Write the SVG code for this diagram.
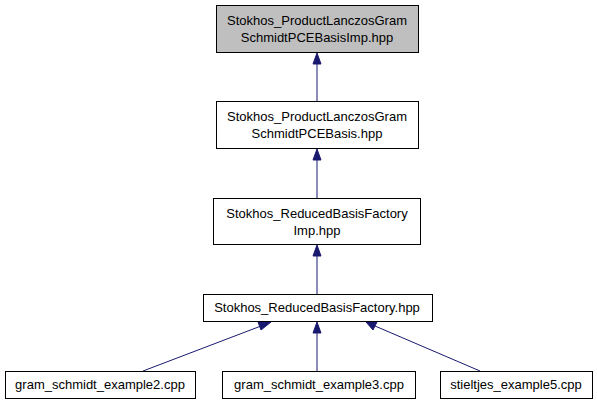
<svg xmlns="http://www.w3.org/2000/svg" width="597" height="405" viewBox="0 0 597 405">
<style>
.n rect{stroke:#000;stroke-width:1;fill:#fff}
.n text{font-family:"Liberation Sans",Arial,sans-serif;font-size:13px;text-anchor:middle;fill:#000}
.e line{stroke:#191970;stroke-width:1}
.e polygon{fill:#191970;stroke:#191970}
</style>
<rect width="597" height="405" fill="#fff"/>
<g class="e" id="edges">
<line x1="317" y1="101" x2="317" y2="63"/>
<polygon points="317,53 313,64 321,64"/>
<line x1="317" y1="198" x2="317" y2="159"/>
<polygon points="317,149 313,160 321,160"/>
<line x1="317" y1="294" x2="317" y2="255"/>
<polygon points="317,245 313,256 321,256"/>
<line x1="143" y1="371" x2="261" y2="326"/>
<polygon points="271,322 258,322 261,330"/>
<line x1="317" y1="371" x2="317" y2="332"/>
<polygon points="317,322 313,333 321,333"/>
<line x1="480" y1="371" x2="375" y2="326"/>
<polygon points="366,322 373,330 377,322"/>
</g>
<g class="n" id="node1">
<rect x="216.5" y="5.5" width="202" height="47" style="fill:#bfbfbf"/>
<text x="317" y="25">Stokhos_ProductLanczosGram</text>
<text x="317" y="42">SchmidtPCEBasisImp.hpp</text>
</g>
<g class="n" id="node2">
<rect x="216.5" y="101.5" width="202" height="47"/>
<text x="317" y="121">Stokhos_ProductLanczosGram</text>
<text x="317" y="138">SchmidtPCEBasis.hpp</text>
</g>
<g class="n" id="node3">
<rect x="213.5" y="198.5" width="207" height="46"/>
<text x="317" y="218">Stokhos_ReducedBasisFactory</text>
<text x="317" y="235">Imp.hpp</text>
</g>
<g class="n" id="node4">
<rect x="203.5" y="294.5" width="229" height="27"/>
<text x="317" y="312">Stokhos_ReducedBasisFactory.hpp</text>
</g>
<g class="n" id="node5">
<rect x="5.5" y="371.5" width="190" height="27"/>
<text x="100" y="389">gram_schmidt_example2.cpp</text>
</g>
<g class="n" id="node6">
<rect x="222.5" y="371.5" width="193" height="27"/>
<text x="319" y="389">gram_schmidt_example3.cpp</text>
</g>
<g class="n" id="node7">
<rect x="440.5" y="371.5" width="152" height="27"/>
<text x="516" y="389">stieltjes_example5.cpp</text>
</g>
</svg>
